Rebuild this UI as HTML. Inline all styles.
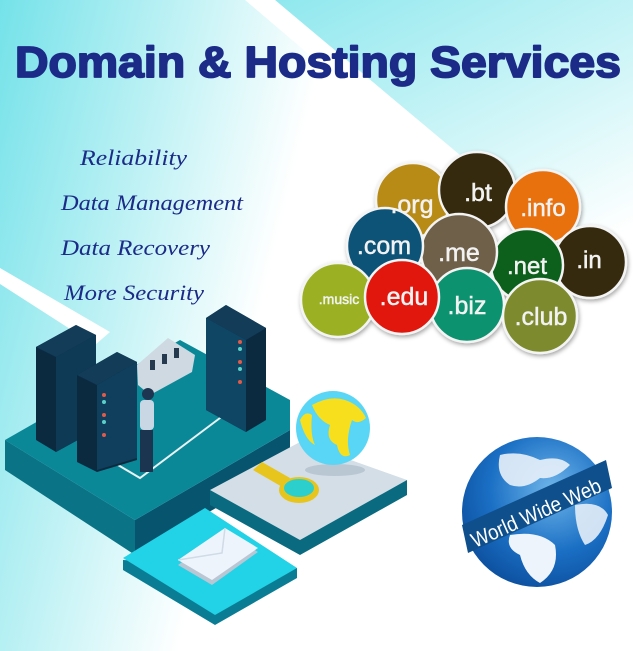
<!DOCTYPE html>
<html><head><meta charset="utf-8"><style>
html,body{margin:0;padding:0;background:#fff}
svg{display:block}
</style></head><body>
<svg width="633" height="651" viewBox="0 0 633 651" xmlns="http://www.w3.org/2000/svg">
<defs>
<linearGradient id="bg" x1="0" y1="0" x2="1" y2="0.25">
<stop offset="0" stop-color="#74e2e9"/><stop offset="0.5" stop-color="#ffffff"/><stop offset="1" stop-color="#ffffff"/></linearGradient>
<linearGradient id="bg2" x1="0" y1="0" x2="0.6" y2="1">
<stop offset="0" stop-color="#8fe8ee"/><stop offset="1" stop-color="#ffffff"/></linearGradient>
<radialGradient id="www" cx="0.6" cy="0.35" r="0.7"><stop offset="0" stop-color="#6fb5ea"/><stop offset="0.6" stop-color="#1a6fc4"/><stop offset="1" stop-color="#0d4f9e"/></radialGradient>
<filter id="sh" x="-20%" y="-20%" width="140%" height="140%"><feDropShadow dx="1" dy="2" stdDeviation="2" flood-opacity="0.35"/></filter>
</defs>
<rect width="633" height="651" fill="url(#bg)"/>
<polygon points="275,0 633,0 633,300" fill="url(#bg2)"/>
<polygon points="245,0 275,0 633,305 633,330" fill="#fff"/>
<polygon points="0,268 0,284 95,345 110,332" fill="#fff"/>

<text x="318" y="77" text-anchor="middle" font-family="Liberation Sans, sans-serif" font-weight="bold" font-size="44" fill="#1b2b87" stroke="#1b2b87" stroke-width="1.8" stroke-linejoin="round" textLength="606" lengthAdjust="spacingAndGlyphs">Domain &amp; Hosting Services</text>

<g font-family="Liberation Serif, serif" font-style="italic" font-size="22" fill="#1b2b87">
<text x="80" y="165" textLength="107" lengthAdjust="spacingAndGlyphs">Reliability</text>
<text x="61" y="210" textLength="182" lengthAdjust="spacingAndGlyphs">Data Management</text>
<text x="61" y="255" textLength="149" lengthAdjust="spacingAndGlyphs">Data Recovery</text>
<text x="64" y="300" textLength="140" lengthAdjust="spacingAndGlyphs">More Security</text>
</g>

<g stroke="#f4f4f4" stroke-width="2.5" filter="url(#sh)">
<circle cx="413" cy="200" r="37" fill="#b88a12"/>
<circle cx="477" cy="190" r="38" fill="#362b10"/>
<circle cx="543" cy="207" r="37" fill="#e8700f"/>
<circle cx="590" cy="262" r="36" fill="#352b0f"/>
<circle cx="527" cy="265" r="36" fill="#0d5e1d"/>
<circle cx="459" cy="252" r="38" fill="#6e6048"/>
<circle cx="385" cy="246" r="38" fill="#0b5378"/>
<circle cx="338" cy="300" r="37" fill="#9bb021"/>
<circle cx="467" cy="305" r="37" fill="#0f9270"/>
<circle cx="540" cy="316" r="37" fill="#7e8a2f"/>
<circle cx="402" cy="297" r="37" fill="#e1130c"/>
</g>
<g font-family="Liberation Sans, sans-serif" text-anchor="middle" fill="#f2f2f2" stroke="#f2f2f2" stroke-width="0.5">
<text x="412" y="213" font-size="25">.org</text>
<text x="478" y="201" font-size="25">.bt</text>
<text x="543" y="216" font-size="24">.info</text>
<text x="589" y="268" font-size="24">.in</text>
<text x="527" y="274" font-size="24">.net</text>
<text x="459" y="261" font-size="25">.me</text>
<text x="384" y="254" font-size="25">.com</text>
<text x="339" y="304" font-size="14">.music</text>
<text x="467" y="314" font-size="25">.biz</text>
<text x="541" y="325" font-size="25">.club</text>
<text x="404" y="305" font-size="25">.edu</text>
</g>

<!-- platforms -->
<polygon points="5,440 5,470 135,555 135,520" fill="#0a7385"/>
<polygon points="135,555 135,520 290,430 290,465" fill="#06546e"/>
<polygon points="5,440 180,340 290,400 290,430 135,520" fill="#0a8897"/>
<polygon points="210,490 210,505 300,555 407,495 407,480" fill="#0a6a80"/>
<polygon points="210,490 300,442 407,480 300,540" fill="#d3dee7"/>
<polygon points="123,560 123,570 215,625 297,578 297,568" fill="#0a7d94"/>
<polygon points="123,558 205,508 297,568 215,615" fill="#22d2e6"/>
<polyline points="118,465 140,478 228,412" fill="none" stroke="#e8f2f2" stroke-width="2"/>
<!-- servers -->
<polygon points="36,347 76,325 96,335 96,430 56,452 36,440" fill="#0b2a40"/>
<polygon points="36,347 76,325 96,335 56,357" fill="#123c58"/>
<polygon points="56,357 96,335 96,430 56,452" fill="#0e3a55"/>
<polygon points="77,375 117,352 137,362 137,460 97,472 77,462" fill="#0b2a40"/>
<polygon points="77,375 117,352 137,362 97,385" fill="#123c58"/>
<polygon points="97,385 137,362 137,458 97,470" fill="#0f3f5c"/>
<polygon points="206,318 226,305 266,328 266,420 246,432 206,410" fill="#0b2a40"/>
<polygon points="206,318 226,305 266,328 246,340" fill="#123c58"/>
<polygon points="206,318 246,340 246,432 206,410" fill="#0f4664"/>
<g fill="#e25a4a"><circle cx="104" cy="395" r="2"/><circle cx="104" cy="415" r="2"/><circle cx="104" cy="435" r="2"/><circle cx="240" cy="342" r="2"/><circle cx="240" cy="362" r="2"/><circle cx="240" cy="382" r="2"/></g>
<g fill="#5ad0c8"><circle cx="104" cy="402" r="2"/><circle cx="104" cy="422" r="2"/><circle cx="240" cy="349" r="2"/><circle cx="240" cy="369" r="2"/></g>
<!-- tray -->
<polygon points="137,365 168,338 195,355 192,372 150,395 138,385" fill="#cfd9e2"/>
<g fill="#253a4e"><rect x="150" y="360" width="5" height="10"/><rect x="162" y="354" width="5" height="10"/><rect x="174" y="348" width="5" height="10"/></g>
<!-- person -->
<rect x="140" y="400" width="14" height="30" rx="4" fill="#c9d6e4"/>
<circle cx="148" cy="394" r="6" fill="#1d3550"/>
<rect x="140" y="430" width="13" height="42" fill="#1b3550"/>
<!-- globe -->
<ellipse cx="335" cy="470" rx="30" ry="6" fill="#9fb0bd" opacity="0.5"/>
<circle cx="333" cy="428" r="37" fill="#59d6f5"/>
<path d="M312,405 Q330,395 345,400 Q360,405 366,418 Q358,425 352,420 Q345,440 350,455 Q340,460 337,445 Q325,440 330,425 Q318,420 312,405Z" fill="#f7df1e"/>
<path d="M300,420 Q305,410 312,415 Q310,435 315,445 Q305,440 300,420Z" fill="#f7df1e"/>
<!-- magnifier -->
<polygon points="253,470 262,462 290,478 284,488" fill="#e8c51c"/>
<ellipse cx="299" cy="490" rx="20" ry="13" fill="#e8c51c"/>
<ellipse cx="299" cy="488" rx="15" ry="9" fill="#2ccfcc"/>
<!-- envelope -->
<polygon points="178,565 225,531 258,552 212,585" fill="#b9c6d3"/>
<polygon points="178,560 225,528 258,548 212,580" fill="#eef4fb"/>
<polyline points="178,560 222,553 225,528" fill="none" stroke="#cfdbe6" stroke-width="1.5"/>

<!-- WWW globe -->
<circle cx="537" cy="512" r="75" fill="url(#www)"/>
<path d="M500,455 Q520,450 540,460 Q560,455 570,465 Q555,480 540,478 Q525,490 510,485 Q495,475 500,455Z" fill="#e9f1fa" opacity="0.9"/>
<path d="M510,535 Q540,530 555,545 Q560,570 540,583 Q525,575 520,555 Q505,548 510,535Z" fill="#eef4fb"/>
<path d="M575,505 Q600,500 608,515 Q600,540 585,545 Q575,530 575,505Z" fill="#e4eef8" opacity="0.9"/>
<polygon points="462,525 606,460 612,488 468,553" fill="#0e4f8c"/>
<text x="0" y="0" transform="translate(475,548) rotate(-24)" font-family="Liberation Sans, sans-serif" font-size="21" fill="#fff" textLength="140" lengthAdjust="spacingAndGlyphs">World Wide Web</text>
</svg>
</body></html>
